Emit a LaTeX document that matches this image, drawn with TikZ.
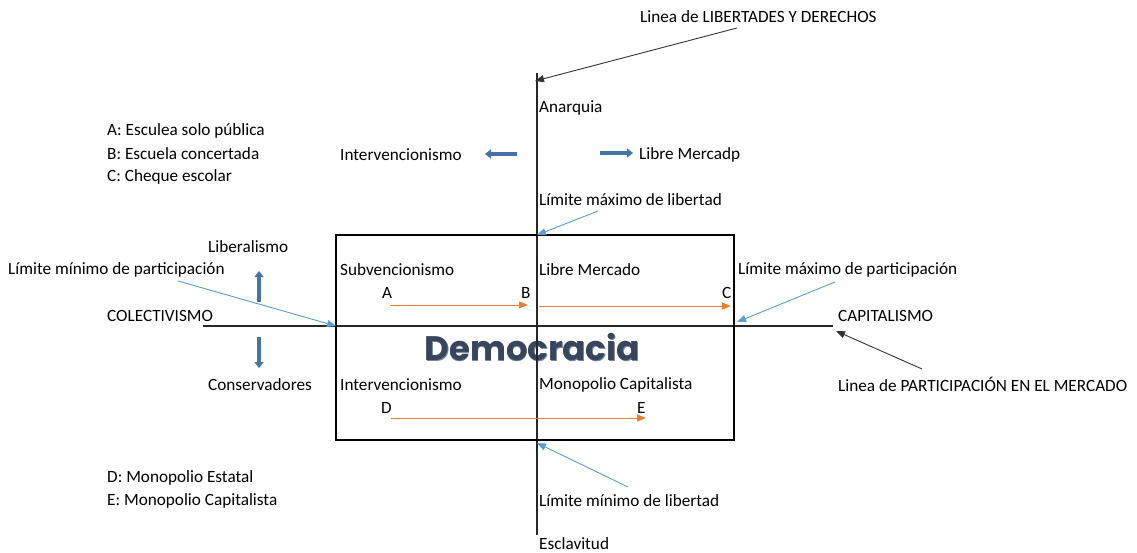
\documentclass[tikz,border=0pt]{standalone}
\usepackage{fontspec}
\setmainfont{Carlito}
\newfontfamily\demofont{Poppins}
\usetikzlibrary{arrows.meta}
\definecolor{lblue}{RGB}{91,155,213}
\definecolor{orng}{RGB}{237,125,49}
\definecolor{bblue}{RGB}{70,115,165}
\definecolor{demo}{RGB}{55,70,92}
\definecolor{demoedge}{RGB}{120,135,155}
\begin{document}
\begin{tikzpicture}[x=1pt,y=-1pt,
  lbl/.style={anchor=west,inner sep=0pt,font=\fontsize{17.2}{19}\selectfont},
  axis/.style={draw=black!85,line width=1.1pt},
  blk/.style={draw=black!80,line width=0.9pt,-{Triangle[length=9pt,width=7pt]}},
  ptr/.style={draw=lblue,line width=0.9pt,-{Triangle[length=9pt,width=7pt]}},
  orar/.style={draw=orng,line width=1pt,-{Triangle[length=9pt,width=7pt]}},
  bigar/.style={draw=bblue,line width=3.6pt,-{Triangle[length=6pt,width=9pt]}}]
\useasboundingbox (0,0) rectangle (1137,553);
% axes
\coordinate (vt) at (537,73);
\coordinate (vb) at (537,535);
\coordinate (hl) at (203,326);
\coordinate (hr) at (833,326);
% Democracia
\node[inner sep=0pt,text=demoedge,font=\demofont\bfseries\fontsize{34}{36}\selectfont] at (532.8,347.6) {Democracia};
\node[inner sep=0pt,text=demo,font=\demofont\bfseries\fontsize{34}{36}\selectfont] (demo) at (532,347) {Democracia};
\draw[axis] (vt) -- (vb);
\draw[axis] (hl) -- (hr);
% box
\draw[line width=1.6pt] (336,235) rectangle (734,440);
\coordinate (boxtop) at (537,235);
\coordinate (boxbot) at (537,440);
\coordinate (boxleft) at (336,326);
\coordinate (boxright) at (734,326);
% texts
\node[lbl] (title) at (640,17) {Linea de LIBERTADES Y DERECHOS};
\node[lbl] (anar) at (539,108) {Anarquia};
\node[lbl] (interv1) at (340,155) {Intervencionismo};
\node[lbl] (librep) at (639,155) {Libre Mercadp};
\node[lbl] (lmaxlib) at (539,200) {Límite máximo de libertad};
\node[lbl] (la) at (107,131) {A: Esculea solo pública};
\node[lbl] (lb) at (107,154) {B: Escuela concertada};
\node[lbl] (lc) at (107,177) {C: Cheque escolar};
\node[lbl] (liber) at (208,247) {Liberalismo};
\node[lbl] (lminpar) at (8,270) {Límite mínimo de participación};
\node[lbl] (colect) at (107,316) {COLECTIVISMO};
\node[lbl] (conserv) at (208,385) {Conservadores};
\node[lbl] (subv) at (340,270) {Subvencionismo};
\node[lbl] (libre) at (539,270) {Libre Mercado};
\node[lbl] (lmaxpar) at (738,270) {Límite máximo de participación};
\node[lbl] (capit) at (838,316) {CAPITALISMO};
\node[lbl] (linpar) at (838,384) {Linea de PARTICIPACIÓN EN EL MERCADO};
\node[lbl] (interv2) at (340,385) {Intervencionismo};
\node[lbl] (monocap) at (539,385) {Monopolio Capitalista};
\node[lbl] (lminlib) at (539,501) {Límite mínimo de libertad};
\node[lbl] (escl) at (539,544) {Esclavitud};
\node[lbl] (ld) at (107,478) {D: Monopolio Estatal};
\node[lbl] (le) at (107,501) {E: Monopolio Capitalista};
% points
\node[lbl] (pA) at (382,293) {A};
\node[lbl] (pB) at (521,293) {B};
\node[lbl] (pC) at (722,293) {C};
\node[lbl] (pD) at (381,408) {D};
\node[lbl] (pE) at (637,408) {E};
\coordinate (a0) at (390,305);
\coordinate (b0) at (528,305);
\coordinate (b1) at (539,306);
\coordinate (c0) at (731,306);
\coordinate (d0) at (391,418);
\coordinate (e0) at (646,418);
\draw[orar] (a0) -- (b0);
\draw[orar] (b1) -- (c0);
\draw[orar] (d0) -- (e0);
% black pointers
\coordinate (t0) at (737,28);
\coordinate (t1) at (535,81);
\draw[blk] (t0) -- (t1);
\coordinate (p0) at (922,369);
\coordinate (p1) at (836,331);
\draw[blk] (p0) -- (p1);
% blue pointers
\coordinate (q0) at (598,211);
\draw[ptr] (q0) -- (boxtop);
\coordinate (q1) at (178,281);
\draw[ptr] (q1) -- (boxleft);
\coordinate (q2) at (835,282);
\coordinate (q3) at (737,322);
\draw[ptr] (q2) -- (q3);
\coordinate (q4) at (628,487);
\coordinate (q5) at (537,443);
\draw[ptr] (q4) -- (q5);
% thick arrows
\coordinate (u0) at (517,154);
\coordinate (u1) at (485,154);
\draw[bigar] (u0) -- (u1);
\coordinate (u2) at (600,153);
\coordinate (u3) at (633,153);
\draw[bigar] (u2) -- (u3);
\coordinate (u4) at (259,302);
\coordinate (u5) at (259,271);
\draw[bigar] (u4) -- (u5);
\coordinate (u6) at (259,337);
\coordinate (u7) at (259,368);
\draw[bigar] (u6) -- (u7);
\end{tikzpicture}
\end{document}
